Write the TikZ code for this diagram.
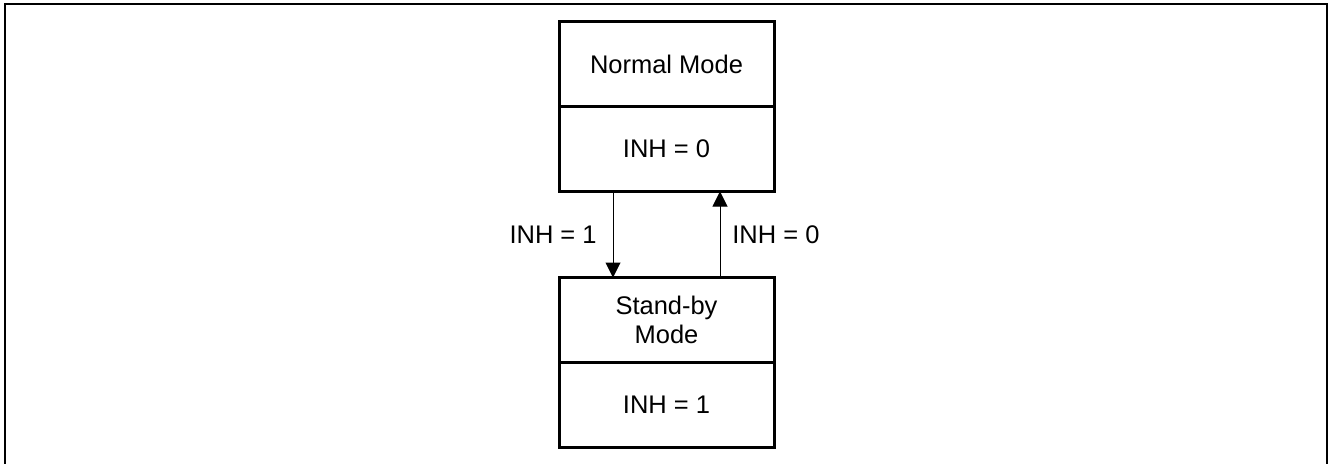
\documentclass[tikz,border=0pt]{standalone}
\usepackage{fontspec}
\setmainfont{Liberation Sans}
\usetikzlibrary{positioning}
\usetikzlibrary{arrows.meta}

\begin{document}
\begin{tikzpicture}
  \useasboundingbox (0,0) rectangle (26.6,-9.26);
  \draw [line width=0.03cm] (0.1,-9.5) -- (0.1,-0.08) -- (26.54,-0.08) -- (26.54,-9.5);

  \tikzset{modebox/.style={draw,line width=0.06cm,minimum width=4.3cm,minimum height=1.7cm,
                           outer sep=0,align=center,font=\fontsize{14.5}{16.5}\selectfont}}
  \tikzset{modearrow/.style={-{Triangle[length=0.3cm,width=0.3cm]},line width=0.02cm}}

  \node [modebox]                     (normal)  at (13.33,-1.28) {Normal Mode};
  \node [modebox,below=0cm of normal] (normal0)                  {INH = 0};
  \node [modebox]                     (standby) at (13.33,-6.4)  {Stand-by\\Mode};
  \node [modebox,below=0cm of standby,minimum height=1.7cm] (standby1) {INH = 1};

  \draw [modearrow] ([xshift=-1.07cm]normal0.south) -- ([xshift=-1.07cm]standby.north)
        node[midway,left=0.2cm,font=\fontsize{14.5}{16.5}\selectfont] {INH = 1};
  \draw [modearrow] ([xshift=1.07cm]standby.north) -- ([xshift=1.07cm]normal0.south)
        node[midway,right=0.12cm,font=\fontsize{14.5}{16.5}\selectfont] {INH = 0};
\end{tikzpicture}
\end{document}
